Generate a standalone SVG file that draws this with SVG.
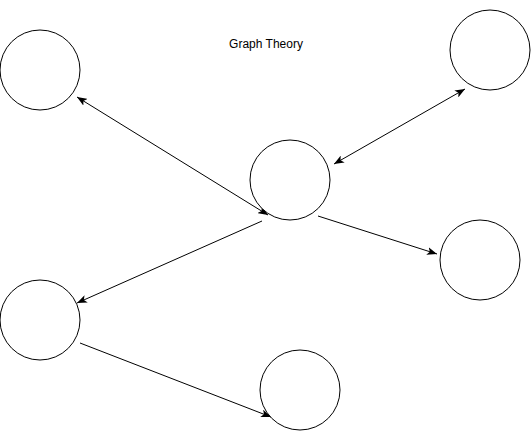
<svg xmlns="http://www.w3.org/2000/svg" width="531" height="431" viewBox="0 0 531 431">
<style>
.n{fill:#fff;stroke:#000;stroke-width:1}
.e{stroke:#000;stroke-width:1;fill:none}
.t{font-family:"Liberation Sans",Arial,sans-serif;font-size:12px;fill:#000}
</style>
<defs>
<marker id="a" viewBox="0 0 10 8" refX="10" refY="4" markerWidth="10" markerHeight="8" markerUnits="userSpaceOnUse" orient="auto-start-reverse">
<path d="M0,0 L10,4 L0,8 L2.5,4 z" fill="#000"/>
</marker>
</defs>
<rect width="531" height="431" fill="#fff"/>
<g id="edges">
<line class="e" x1="268" y1="215" x2="77" y2="97" marker-start="url(#a)" marker-end="url(#a)"/>
<line class="e" x1="334" y1="164" x2="465" y2="89" marker-start="url(#a)" marker-end="url(#a)"/>
<line class="e" x1="318" y1="216" x2="437" y2="254" marker-end="url(#a)"/>
<line class="e" x1="262" y1="221" x2="77" y2="303" marker-end="url(#a)"/>
<line class="e" x1="80" y1="343" x2="271" y2="417" marker-end="url(#a)"/>
</g>
<g id="n1"><circle class="n" cx="40" cy="70" r="40"/></g>
<g id="n2"><circle class="n" cx="490" cy="50" r="40"/></g>
<g id="n3"><circle class="n" cx="290" cy="180" r="40"/></g>
<g id="n4"><circle class="n" cx="480" cy="260" r="40"/></g>
<g id="n5"><circle class="n" cx="40" cy="320" r="40"/></g>
<g id="n6"><circle class="n" cx="300" cy="390" r="40"/></g>
<g id="title"><text class="t" x="266" y="48" text-anchor="middle">Graph Theory</text></g>
</svg>
